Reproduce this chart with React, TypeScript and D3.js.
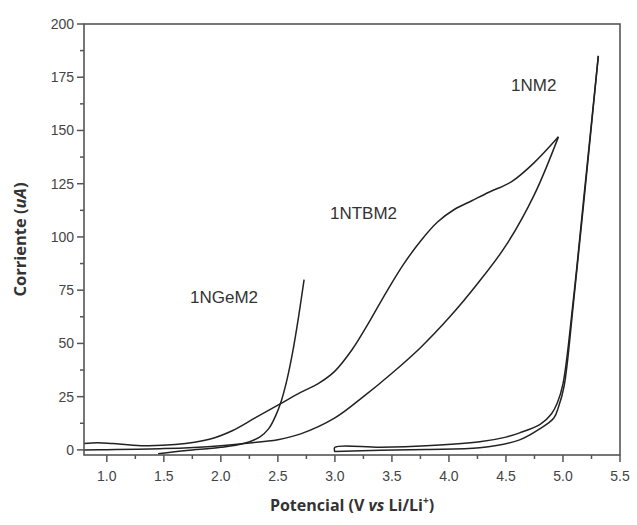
import React from "react";
import * as d3 from "d3";

const xTicks = [1.0, 1.5, 2.0, 2.5, 3.0, 3.5, 4.0, 4.5, 5.0, 5.5];
const yTicks = [0, 25, 50, 75, 100, 125, 150, 175, 200];

// 1NGeM2 (single sweep)
const ngemX = [1.45, 1.7, 2.0, 2.2, 2.34, 2.42, 2.48, 2.53, 2.58, 2.63, 2.68, 2.73];
const ngemY = [-1.8, -0.3, 1.2, 3, 6, 10, 16, 23, 33, 46, 62, 80];

// 1NTBM2 anodic (upper) branch
const ntbUpX = [0.8, 0.92, 1.05, 1.3, 1.6, 1.9, 2.1, 2.3, 2.5, 2.7, 2.85, 3.0, 3.15, 3.3, 3.45, 3.6, 3.75, 3.9, 4.05, 4.2, 4.35, 4.55, 4.75, 4.96];
const ntbUpY = [3, 3.4, 3, 2, 2.5, 5, 9, 15, 21, 27, 31, 37, 47, 60, 74, 87, 98, 107, 113, 117, 121, 126, 135, 147];
// 1NTBM2 return (lower) branch
const ntbDnX = [4.96, 4.75, 4.5, 4.25, 4.0, 3.75, 3.5, 3.25, 3.0, 2.7, 2.5, 2.2, 2.0, 1.5, 1.0, 0.8];
const ntbDnY = [147, 120, 96, 78, 62, 48, 36, 25, 15, 7.5, 4.8, 3, 2, 0.6, 0.1, 0];

// 1NM2 anodic and return branches
const nmUpX = [3.0, 3.0, 3.4, 3.8, 4.27, 4.5, 4.62, 4.8, 4.9, 4.95, 5.0, 5.09, 5.18, 5.31];
const nmUpY = [-1, 1.2, 1.2, 1.9, 3.8, 6, 8, 12, 17, 22, 31, 70, 117, 185];
const nmDnX = [5.31, 5.18, 5.09, 5.01, 4.96, 4.92, 4.8, 4.62, 4.27, 3.8, 3.4, 3.0];
const nmDnY = [185, 115, 68, 30, 20, 15, 10, 4.7, 1, 0.2, -0.2, -0.8];

const W = 637, H = 525;
const M = { left: 84, right: 17, top: 24, bottom: 70 };

export default function App() {
  const x = d3.scaleLinear().domain([0.8, 5.5]).range([M.left, W - M.right]);
  const y = d3.scaleLinear().domain([-2.4, 200]).range([H - M.bottom, M.top]);
  const line = d3
    .line<[number, number]>()
    .x((d) => x(d[0]))
    .y((d) => y(d[1]))
    .curve(d3.curveCatmullRom.alpha(0.5));
  const zip = (a: number[], b: number[]) => a.map((v, i) => [v, b[i]] as [number, number]);
  const series = [
    zip(ngemX, ngemY),
    zip(ntbUpX, ntbUpY),
    zip(ntbDnX, ntbDnY),
    zip(nmUpX, nmUpY),
    zip(nmDnX, nmDnY),
  ];
  const minorX = d3.range(0.75, 5.5001, 0.25).filter((v) => v >= 0.8 && Math.abs((v * 2) % 1) > 0.01);
  const minorY = d3.range(12.5, 200, 25);
  const x0 = M.left, x1 = W - M.right, y0 = H - M.bottom, y1 = M.top;
  const axisColor = "#555";
  const font = "Liberation Sans, Arial, sans-serif";
  return (
    <svg width={W} height={H} style={{ position: "absolute", left: 0, top: 0, background: "#fff" }}>
      <defs>
        <clipPath id="plot">
          <rect x={x0} y={y1} width={x1 - x0} height={y0 - y1} />
        </clipPath>
      </defs>
      <g clipPath="url(#plot)">
        {series.map((s, i) => (
          <path key={i} d={line(s) || ""} fill="none" stroke="#222" strokeWidth={1.5} />
        ))}
      </g>
      <rect x={x0} y={y1} width={x1 - x0} height={y0 - y1} fill="none" stroke={axisColor} strokeWidth={1.6} />
      {xTicks.map((t) => (
        <g key={"x" + t}>
          <line x1={x(t)} x2={x(t)} y1={y0} y2={y0 + 7} stroke={axisColor} strokeWidth={1.5} />
          <text x={x(t)} y={y0 + 26} textAnchor="middle" fontFamily={font} fontSize={14} fill="#444">
            {t.toFixed(1)}
          </text>
        </g>
      ))}
      {minorX.map((t) => (
        <line key={"mx" + t} x1={x(t)} x2={x(t)} y1={y0} y2={y0 + 4} stroke={axisColor} strokeWidth={1.5} />
      ))}
      {yTicks.map((t) => (
        <g key={"y" + t}>
          <line x1={x0 - 7} x2={x0} y1={y(t)} y2={y(t)} stroke={axisColor} strokeWidth={1.5} />
          <text x={x0 - 10} y={y(t) + 5} textAnchor="end" fontFamily={font} fontSize={14} fill="#444">
            {t}
          </text>
        </g>
      ))}
      {minorY.map((t) => (
        <line key={"my" + t} x1={x0 - 4} x2={x0} y1={y(t)} y2={y(t)} stroke={axisColor} strokeWidth={1.5} />
      ))}
      <text x={190} y={303} fontFamily={font} fontSize={17} fill="#333">1NGeM2</text>
      <text x={330} y={219} fontFamily={font} fontSize={17} fill="#333">1NTBM2</text>
      <text x={511} y={91} fontFamily={font} fontSize={17} fill="#333">1NM2</text>
      <text
        x={(x0 + x1) / 2}
        y={511}
        textAnchor="middle"
        fontFamily="Open Sans, sans-serif"
        fontWeight="bold"
        fontSize={16}
        fill="#333"
      >
        Potencial (V <tspan fontStyle="italic">vs</tspan> Li/Li
        <tspan dy={-7} fontSize={10}>+</tspan>
        <tspan dy={7}>)</tspan>
      </text>
      <text
        transform={`translate(26, ${(y0 + y1) / 2}) rotate(-90)`}
        textAnchor="middle"
        fontFamily="Open Sans, sans-serif"
        fontWeight="bold"
        fontSize={16.5}
        fill="#333"
      >
        Corriente (<tspan fontStyle="italic">uA</tspan>)
      </text>
    </svg>
  );
}
